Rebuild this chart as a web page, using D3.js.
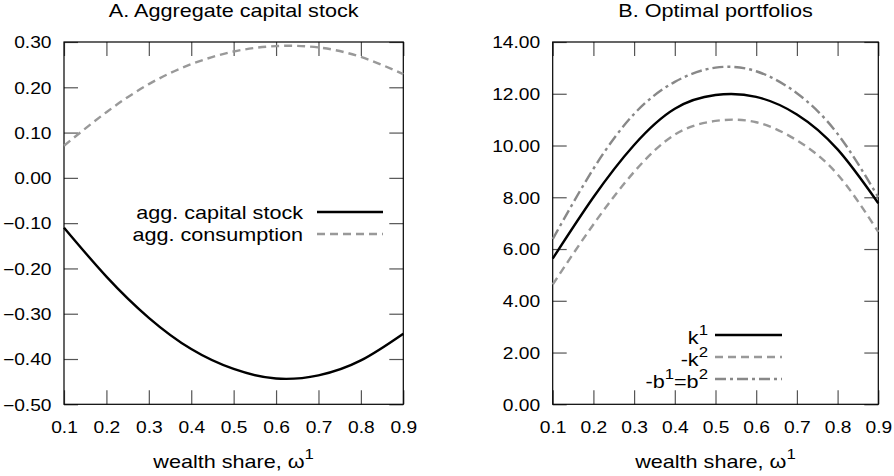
<!DOCTYPE html>
<meta charset="utf-8">
<style>
body { margin: 0; background: #fff; }
svg { font-family: "Liberation Sans", Arial, sans-serif; }
</style>
<body>
<script src="https://d3js.org/d3.v7.min.js"></script>
<script>
// data
var omega = [0.1, 0.2, 0.3, 0.4, 0.5, 0.6, 0.7, 0.8, 0.9];
var aggCapital = [-0.110, -0.218, -0.309, -0.378, -0.422, -0.443, -0.436, -0.403, -0.344];
var aggConsumption = [0.071, 0.145, 0.207, 0.251, 0.279, 0.291, 0.288, 0.267, 0.229];
var k1 = [5.63, 8.00, 10.02, 11.42, 11.95, 11.88, 11.20, 9.85, 7.77];
var negK2 = [4.63, 6.95, 8.98, 10.42, 10.95, 10.90, 10.20, 8.88, 6.66];
var b2 = [6.38, 9.10, 11.22, 12.46, 13.01, 12.87, 12.02, 10.45, 8.00];

var xTicks = [0.1, 0.2, 0.3, 0.4, 0.5, 0.6, 0.7, 0.8, 0.9];
var yTicksA = [-0.5, -0.4, -0.3, -0.2, -0.1, 0, 0.1, 0.2, 0.3];
var yTicksB = [0, 2, 4, 6, 8, 10, 12, 14];

var SX = 1.2;   // text in the original is stretched sideways
var TICK = 14;

var svg = d3.select("body").append("svg")
    .attr("width", 894)
    .attr("height", 476);

// draw text, stretched, with optional superscripts  parts: "txt" or {sup:"1"}
function label(x, y, anchor, size, parts) {
  var t = svg.append("g")
      .attr("transform", "translate(" + x + "," + y + ") scale(" + SX + ",1)")
    .append("text")
      .attr("text-anchor", anchor)
      .style("font-size", size + "px");
  var up = false;
  parts.forEach(function(p) {
    if (typeof p === "string") {
      t.append("tspan").attr("dy", up ? 9 : 0).text(p);
      up = false;
    } else {
      t.append("tspan").attr("dy", -9).style("font-size", (size - 4) + "px").text(p.sup);
      up = true;
    }
  });
}

function panel(x0, x1, yDomain, yTicks, yFmt, title) {
  var x = d3.scaleLinear().domain([0.1, 0.9]).range([x0, x1]);
  var y = d3.scaleLinear().domain(yDomain).range([404.3, 42]);
  var g = svg.append("g");

  function styleAxis(a) {
    a.select(".domain").remove();
    a.selectAll("line").attr("stroke", "#555").attr("stroke-width", 1.2);
    a.selectAll("text")
      .attr("fill", "#000")
      .style("font-size", "16px")
      .style("font-family", "'Liberation Sans', Arial, sans-serif");
  }

  g.append("g").attr("transform", "translate(0,404.3)")
      .call(d3.axisBottom(x).tickValues(xTicks).tickSize(-TICK).tickPadding(17.5).tickFormat(d3.format(".1f")))
      .call(styleAxis)
      .selectAll("text").attr("dy", "0.71em").attr("transform", "scale(" + SX + ",1)");
  g.append("g").attr("transform", "translate(0,42)")
      .call(d3.axisTop(x).tickValues(xTicks).tickSize(-TICK).tickFormat(""))
      .call(styleAxis);
  g.append("g").attr("transform", "translate(" + x0 + ",0)")
      .call(d3.axisLeft(y).tickValues(yTicks).tickSize(-TICK).tickPadding(12.5 / SX).tickFormat(d3.format(yFmt)))
      .call(styleAxis)
      .selectAll("text").attr("dy", "0.36em").attr("transform", "scale(" + SX + ",1)");
  g.append("g").attr("transform", "translate(" + x1 + ",0)")
      .call(d3.axisRight(y).tickValues(yTicks).tickSize(-TICK).tickFormat(""))
      .call(styleAxis);

  g.append("rect")
      .attr("x", x0).attr("y", 42)
      .attr("width", x1 - x0).attr("height", 404.3 - 42)
      .attr("fill", "none").attr("stroke", "#000").attr("stroke-width", 1.2);

  label((x0 + x1) / 2, 17, "middle", 18, [title]);
  label((x0 + x1) / 2, 468, "middle", 18, ["wealth share, \u03c9", {sup: "1"}]);

  return {x: x, y: y, g: g};
}

function curve(p, values, color, dash) {
  var line = d3.line()
      .x(function(d, i) { return p.x(omega[i]); })
      .y(function(d) { return p.y(d); })
      .curve(d3.curveNatural);
  p.g.append("path")
      .datum(values)
      .attr("d", line)
      .attr("fill", "none")
      .attr("stroke", color)
      .attr("stroke-width", 2.4)
      .attr("stroke-dasharray", dash);
}

function legendLine(xa, xb, y, color, dash) {
  svg.append("line")
      .attr("x1", xa).attr("x2", xb).attr("y1", y).attr("y2", y)
      .attr("stroke", color).attr("stroke-width", 2.4)
      .attr("stroke-dasharray", dash);
}

// A. Aggregate capital stock
var pA = panel(64, 403.3, [-0.5, 0.3], yTicksA, ".2f", "A. Aggregate capital stock");
curve(pA, aggConsumption, "#999", "8,5");
curve(pA, aggCapital, "#000", null);

label(303, 219, "end", 18, ["agg. capital stock"]);
legendLine(317, 383, 212, "#000", null);
label(303, 241, "end", 18, ["agg. consumption"]);
legendLine(317, 383, 234, "#999", "8,5");

// B. Optimal portfolios
var pB = panel(552.7, 878.3, [0, 14], yTicksB, ".2f", "B. Optimal portfolios");
curve(pB, negK2, "#999", "8,5");
curve(pB, b2, "#888", "11,4,3,4");
curve(pB, k1, "#000", null);

label(708, 344, "end", 18, ["k", {sup: "1"}]);
legendLine(715, 782, 335, "#000", null);
label(708, 366, "end", 18, ["-k", {sup: "2"}]);
legendLine(715, 782, 357, "#999", "8,5");
label(708, 388, "end", 18, ["-b", {sup: "1"}, "=b", {sup: "2"}]);
legendLine(715, 782, 379, "#888", "11,4,3,4");
</script>
</body>
